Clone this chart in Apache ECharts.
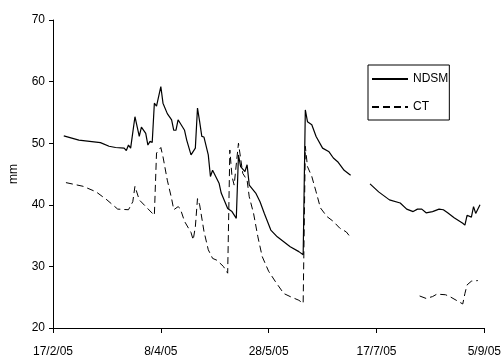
<!DOCTYPE html>
<html>
<head>
<meta charset="utf-8">
<script src="https://cdn.jsdelivr.net/npm/echarts@6/dist/echarts.min.js"></script>
<style>
html,body{margin:0;padding:0;background:#fff;}
#chart{width:504px;height:359px;}
</style>
</head>
<body>
<div id="chart"></div>
<script>
// x positions are days since 17/2/05; null value = gap in the record
const xTickLabels = ['17/2/05', '8/4/05', '28/5/05', '17/7/05', '5/9/05'];
const yTicks = [20, 30, 40, 50, 60, 70];

const ndsmDays = [5, 12, 22, 26, 29, 33, 34, 35, 36, 38, 40, 41, 43, 44, 45, 46, 47, 48, 50, 51, 53, 55, 56, 57, 58, 61, 62, 64, 66, 67, 68, 69, 70, 72, 73, 74, 77, 78, 81, 83, 85, 86, 87, 89, 90, 91, 94, 96, 98, 101, 104, 107, 110, 114, 116, 117, 118, 120, 122, 125, 128, 130, 132, 135, 138,
  142,
  147, 151, 156, 161, 164, 167, 169, 171, 173, 176, 179, 181, 183, 186, 190, 191, 192, 194, 195, 196, 198];
const ndsmVals = [51.2, 50.5, 50.1, 49.5, 49.3, 49.2, 48.8, 49.7, 49.2, 54.3, 51.1, 52.6, 51.6, 49.7, 50.3, 50.1, 56.5, 56.0, 59.2, 56.5, 54.8, 53.8, 52.1, 52.1, 53.8, 52.1, 50.5, 48.1, 49.2, 55.7, 53.5, 51.1, 51.0, 48.1, 44.6, 45.6, 43.5, 41.9, 39.4, 38.9, 37.8, 48.1, 46.2, 45.4, 46.5, 43.2, 41.9, 40.5, 38.6, 35.9, 34.8, 34.0, 33.2, 32.4, 31.9, 55.4, 53.5, 53.0, 51.1, 49.2, 48.6, 47.6, 47.0, 45.6, 44.8,
  null,
  43.4, 42.1, 40.8, 40.3, 39.3, 38.9, 39.3, 39.3, 38.7, 38.9, 39.3, 39.2, 38.7, 37.9, 37.0, 36.7, 38.3, 38.0, 39.7, 38.6, 40.0];

const ctDays = [6, 14, 20, 25, 30, 35, 37, 38, 40, 45, 47, 48, 50, 51, 53, 55, 56, 58, 59, 61, 64, 65, 66, 67, 68, 70, 72, 74, 76, 79, 81, 82, 83, 84, 86, 88, 90, 91, 93, 95, 97, 100, 103, 107, 110, 114, 116, 117, 118, 120, 122, 124, 127, 130, 133, 136, 138,
  150,
  170, 173, 176, 178, 182, 184, 188, 190, 191, 192, 194, 197];
const ctVals = [43.6, 43.0, 42.1, 40.8, 39.3, 39.2, 40.5, 43.0, 40.8, 39.0, 38.3, 48.4, 49.3, 47.8, 44.0, 41.0, 39.2, 39.7, 39.4, 37.3, 35.5, 34.3, 36.4, 41.0, 40.0, 35.7, 32.7, 31.3, 31.0, 30.0, 28.9, 48.9, 44.6, 43.2, 50.0, 45.1, 44.0, 41.3, 38.6, 34.8, 31.6, 29.2, 27.6, 25.6, 25.1, 24.5, 24.0, 49.5, 46.2, 44.6, 42.1, 39.5, 38.1, 37.3, 36.2, 35.6, 34.7,
  null,
  25.2, 24.8, 25.1, 25.5, 25.4, 25.1, 24.3, 23.9, 25.6, 27.0, 27.6, 27.7];

function pairs(days, vals) {
  return days.map((d, i) => [d, vals[i] === null ? '-' : vals[i]]);
}

const FONT = "'Liberation Sans', Arial, sans-serif";
const chart = echarts.init(document.getElementById('chart'), null, {renderer: 'canvas'});
chart.setOption({
  animation: false,
  backgroundColor: '#fff',
  textStyle: {fontFamily: FONT, color: '#000'},
  grid: {left: 53, right: 16, top: 20, bottom: 31},
  legend: {
    orient: 'vertical',
    left: 368, top: 65,
    padding: [8, 1, 7, 3],
    itemGap: 16,
    itemWidth: 36, itemHeight: 14,
    borderColor: '#000', borderWidth: 1,
    itemStyle: {opacity: 0, color: 'transparent', borderWidth: 0},
    textStyle: {fontFamily: FONT, fontSize: 12, color: '#000'},
    data: ['NDSM', 'CT']
  },
  xAxis: {
    type: 'value',
    min: 0, max: 200, interval: 50,
    axisLine: {show: true, lineStyle: {color: '#000', width: 1}},
    axisTick: {show: true, inside: false, length: 5, lineStyle: {color: '#000'}},
    splitLine: {show: false},
    axisLabel: {
      margin: 18, fontFamily: FONT, fontSize: 12, color: '#000',
      formatter: v => xTickLabels[Math.round(v / 50)] || ''
    }
  },
  yAxis: {
    type: 'value',
    min: yTicks[0], max: yTicks[yTicks.length - 1], interval: 10,
    name: 'mm', nameLocation: 'middle', nameGap: 33, nameRotate: 90,
    nameTextStyle: {fontFamily: FONT, fontSize: 12, color: '#000'},
    axisLine: {show: true, lineStyle: {color: '#000', width: 1}},
    axisTick: {show: true, inside: false, length: 4, lineStyle: {color: '#000'}},
    splitLine: {show: false},
    axisLabel: {margin: 8, fontFamily: FONT, fontSize: 12, color: '#000'}
  },
  series: [
    {
      name: 'NDSM', type: 'line', symbol: 'none', connectNulls: false,
      lineStyle: {color: '#000', width: 1.2, type: 'solid'},
      itemStyle: {color: '#000'},
      data: pairs(ndsmDays, ndsmVals)
    },
    {
      name: 'CT', type: 'line', symbol: 'none', connectNulls: false,
      lineStyle: {color: '#000', width: 1, type: [7, 4]},
      itemStyle: {color: '#000'},
      data: pairs(ctDays, ctVals)
    }
  ]
});
</script>
</body>
</html>
